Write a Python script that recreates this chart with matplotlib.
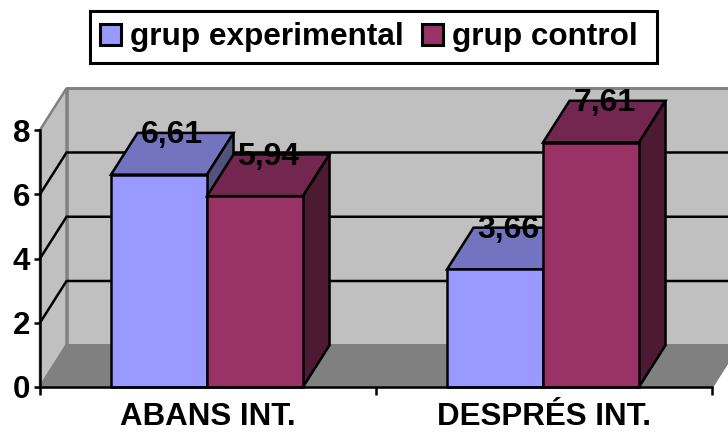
import matplotlib
matplotlib.use("Agg")
import matplotlib.pyplot as plt
from matplotlib.patches import Polygon, Patch, Rectangle

plt.rcParams['font.family'] = ['Liberation Sans', 'DejaVu Sans']
plt.rcParams['font.weight'] = 'bold'

categories = ['ABANS INT.', 'DESPRÉS INT.']
series_names = ['grup experimental', 'grup control']
experimental = [6.61, 3.66]
control = [5.94, 7.61]
value_labels = [['6,61', '3,66'], ['5,94', '7,61']]
y_ticks = [0, 2, 4, 6, 8]

front_colors = ['#9999FF', '#993366']
top_colors = ['#7373BF', '#732650']
side_colors = ['#52527F', '#4D1A33']
wall_color = '#C0C0C0'
floor_color = '#808080'

# depth of the fake 3d box, in data units
dx = 0.079
dy = 1.3
bar_w = 0.2857
lw = 1.8

fig = plt.figure(figsize=(7.28, 4.32), dpi=100)
ax = fig.add_axes([40 / 728, (432 - 387) / 432, 672 / 728, 257 / 432])
ax.set_xlim(0, 2)
ax.set_ylim(0, 8)
ax.patch.set_visible(False)
for s in ['top', 'right']:
    ax.spines[s].set_visible(False)
for s in ['left', 'bottom']:
    ax.spines[s].set_linewidth(lw)
    ax.spines[s].set_zorder(6)


def poly(points, color, edge='black', z=5, width=lw):
    ax.add_patch(Polygon(points, closed=True, facecolor=color, edgecolor=edge,
                         linewidth=width, zorder=z, clip_on=False, joinstyle='miter'))


# walls and floor
poly([(0, 0), (dx, dy), (dx, 8 + dy), (0, 8)], wall_color, '#808080', 1)
poly([(dx, dy), (2 + dx, dy), (2 + dx, 8 + dy), (dx, 8 + dy)], wall_color, '#808080', 1)
poly([(0, 0), (dx, dy), (2 + dx, dy), (2, 0)], floor_color, '#808080', 1)

# gridlines, back wall and left wall
for t in y_ticks[1:-1]:
    ax.plot([0, dx, 2 + dx], [t, t + dy, t + dy], color='black', lw=lw, zorder=2, clip_on=False)
ax.plot([dx, 2 + dx], [8 + dy, 8 + dy], color='#808080', lw=lw, zorder=2, clip_on=False)


def draw_bar(x0, v, k):
    x1 = x0 + bar_w
    poly([(x0, v), (x0 + dx, v + dy), (x1 + dx, v + dy), (x1, v)], top_colors[k])
    poly([(x1, 0), (x1 + dx, dy), (x1 + dx, v + dy), (x1, v)], side_colors[k])
    poly([(x0, 0), (x1, 0), (x1, v), (x0, v)], front_colors[k])


for i in range(len(categories)):
    start = i + 0.2113
    for k, values in enumerate([experimental, control]):
        x0 = start + k * bar_w
        draw_bar(x0, values[i], k)
        ax.text(x0 + bar_w / 2 + dx / 2, values[i] + dy - 0.08, value_labels[k][i],
                ha='center', va='center', fontsize=23, color='black', zorder=7, clip_on=False)

ax.set_yticks(y_ticks)
ax.set_yticklabels([str(t) for t in y_ticks], fontsize=22.5)
ax.tick_params(axis='y', length=4, width=lw, pad=3)
ax.set_xticks([0, 1, 2])
ax.set_xticklabels([])
ax.tick_params(axis='x', length=6, width=lw)
for i, c in enumerate(categories):
    ax.annotate(c, xy=(i + 0.5, 0), xytext=(0, -38), xycoords=('data', 'data'),
                textcoords='offset pixels', ha='center', va='baseline', fontsize=22.5,
                annotation_clip=False)

# legend box drawn separately, matplotlib ties its padding to the font size
fig.add_artist(Rectangle((90 / 728, 1 - 63 / 432), 567 / 728, 52 / 432, transform=fig.transFigure,
                         facecolor='white', edgecolor='black', linewidth=2.2))
handles = [Patch(facecolor=front_colors[k], edgecolor='black', linewidth=lw + 0.4, label=series_names[k])
           for k in range(2)]
leg = fig.legend(handles=handles, ncol=2, loc='center', bbox_to_anchor=(369 / 728, 1 - 37.5 / 432),
                 prop={'size': 22.7, 'weight': 'bold'}, frameon=False,
                 handlelength=0.66, handleheight=0.66,
                 handletextpad=0.27, columnspacing=0.6, borderpad=0, borderaxespad=0)
leg.set_zorder(10)

fig.savefig('out.png', dpi=100)
